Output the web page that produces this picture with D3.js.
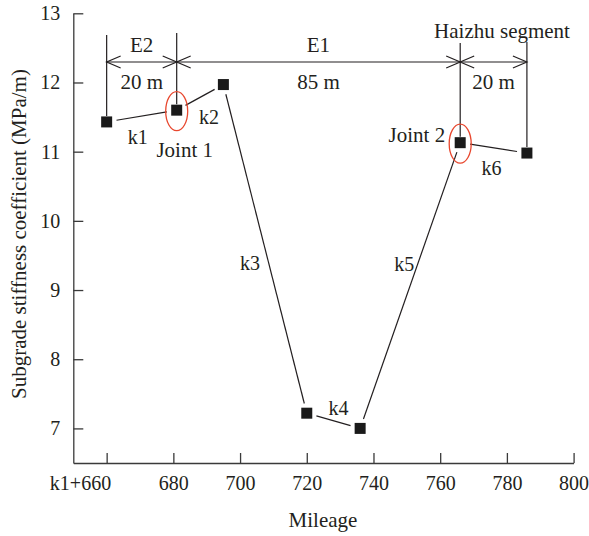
<!DOCTYPE html>
<html>
  <head>
    <meta http-equiv="Content-type" content="text/html; charset=utf-8">
    <title>Subgrade stiffness coefficient</title>
    <script src="https://cdn.jsdelivr.net/npm/d3@7/dist/d3.min.js"></script>
    <style>
      body { margin: 0; background: #fff; }
      text { font-family: "Liberation Serif", "DejaVu Serif", serif; fill: #231f20; }
    </style>
  </head>
  <body>
    <div id="chart"></div>
    <script type="text/javascript">
      // data
      var mileage = [660, 681, 695, 720, 736, 766, 786];
      var stiffness = [11.43, 11.6, 11.97, 7.22, 7.0, 11.13, 10.98];
      var segLabels = ["k1", "k2", "k3", "k4", "k5", "k6"];
      var xTicks = [660, 680, 700, 720, 740, 760, 780, 800];
      var yTicks = [7, 8, 9, 10, 11, 12, 13];
      // dimension lines above the plot
      var dimMarks = [660, 681, 766, 786];
      var spans = [
        { from: 660, to: 681, name: "E2", len: "20 m" },
        { from: 681, to: 766, name: "E1", len: "85 m" },
        { from: 766, to: 786, name: "", len: "20 m" }
      ];
      var joints = [{ i: 1, name: "Joint 1" }, { i: 5, name: "Joint 2" }];

      var width = 589, height = 536;
      var ink = "#231f20", fs = 20, fw = 21;

      var x = d3.scaleLinear().domain([650, 800]).range([73.3, 573.6]);
      var y = d3.scaleLinear().domain([6.5, 13]).range([463, 13.3]);

      var svg = d3.select("#chart").append("svg")
        .attr("width", width)
        .attr("height", height);

      // axes
      var xAxis = svg.append("g")
        .attr("transform", "translate(0," + y(6.5) + ")")
        .call(d3.axisBottom(x).tickValues(xTicks).tickSizeInner(-10).tickSizeOuter(0).tickPadding(13)
          .tickFormat(function(d) { return d == 660 ? "k1+660" : d; }));
      var yAxis = svg.append("g")
        .attr("transform", "translate(" + x(650) + ",0)")
        .call(d3.axisLeft(y).tickValues(yTicks).tickSizeInner(-10).tickSizeOuter(0).tickPadding(13)
          .tickFormat(d3.format("d")));
      [xAxis, yAxis].forEach(function(a) {
        a.selectAll("path, line").attr("stroke", "#3a3a3a").attr("stroke-width", 1.3);
        a.selectAll("text").style("font-size", fs + "px").attr("fill", ink)
          .style("font-family", "'Liberation Serif', 'DejaVu Serif', serif");
      });
      // the first label sits left of its tick in the original
      xAxis.selectAll(".tick text")
        .filter(function(d) { return d == 660; })
        .attr("text-anchor", "end").attr("x", 4);

      svg.append("text")
        .attr("x", 323).attr("y", 527)
        .attr("text-anchor", "middle")
        .style("font-size", fw + "px")
        .text("Mileage");
      svg.append("text")
        .attr("transform", "translate(26,234) rotate(-90)")
        .attr("text-anchor", "middle")
        .style("font-size", fw + "px")
        .text("Subgrade stiffness coefficient (MPa/m)");

      var pts = mileage.map(function(m, i) { return [x(m), y(stiffness[i])]; });

      // connecting segments, trimmed so they stop short of the markers
      var gap = 10;
      var segs = d3.pairs(pts);
      svg.append("g").selectAll("line")
        .data(segs)
        .enter().append("line")
        .each(function(s) {
          var dx = s[1][0] - s[0][0], dy = s[1][1] - s[0][1];
          var L = Math.sqrt(dx * dx + dy * dy);
          var ux = dx / L, uy = dy / L;
          d3.select(this)
            .attr("x1", s[0][0] + ux * gap).attr("y1", s[0][1] + uy * gap)
            .attr("x2", s[1][0] - ux * gap).attr("y2", s[1][1] - uy * gap);
        })
        .attr("stroke", ink).attr("stroke-width", 1.2);

      // segment labels, offset from each segment's midpoint
      var segOffsets = [[-4, 21], [9, 20], [-15, 14], [5, -13], [-6, -22], [-2, 20]];
      svg.append("g").selectAll("text")
        .data(segs)
        .enter().append("text")
        .attr("x", function(s, i) { return (s[0][0] + s[1][0]) / 2 + segOffsets[i][0]; })
        .attr("y", function(s, i) { return (s[0][1] + s[1][1]) / 2 + segOffsets[i][1]; })
        .attr("dy", "0.35em")
        .attr("text-anchor", "middle")
        .style("font-size", fs + "px")
        .text(function(d, i) { return segLabels[i]; });

      // dimension lines
      var dimY = 62;
      var dimTop = [35, 33, 43, 42];
      var dim = svg.append("g").attr("stroke", ink).attr("stroke-width", 1.2).attr("fill", "none");
      dimMarks.forEach(function(m, k) {
        var i = mileage.indexOf(m);
        dim.append("line")
          .attr("x1", x(m)).attr("x2", x(m))
          .attr("y1", dimTop[k]).attr("y2", pts[i][1] - 6);
      });
      dim.append("line")
        .attr("x1", x(spans[0].from)).attr("x2", x(spans[spans.length - 1].to))
        .attr("y1", dimY).attr("y2", dimY);
      function chevron(px, dir) {
        dim.append("path")
          .attr("d", "M" + (px + dir * 14) + "," + (dimY - 6) + "L" + px + "," + dimY + "L" + (px + dir * 14) + "," + (dimY + 6));
      }
      spans.forEach(function(s) {
        chevron(x(s.from), 1);
        chevron(x(s.to), -1);
        var cx = (x(s.from) + x(s.to)) / 2;
        if (s.name) {
          svg.append("text").attr("x", cx).attr("y", dimY - 10)
            .attr("text-anchor", "middle").style("font-size", fw + "px").text(s.name);
        }
        svg.append("text").attr("x", cx).attr("y", dimY + 27)
          .attr("text-anchor", "middle").style("font-size", fw + "px").text(s.len);
      });
      svg.append("text")
        .attr("x", 502).attr("y", 38)
        .attr("text-anchor", "middle")
        .style("font-size", fw + "px")
        .text("Haizhu segment");

      // red rings round the joints
      svg.append("g").selectAll("ellipse")
        .data(joints)
        .enter().append("ellipse")
        .attr("cx", function(d) { return pts[d.i][0]; })
        .attr("cy", function(d) { return pts[d.i][1] + 1; })
        .attr("rx", 11).attr("ry", 19.5)
        .attr("fill", "none").attr("stroke", "#e8472e").attr("stroke-width", 1.3);
      svg.append("text")
        .attr("x", pts[1][0] + 8).attr("y", pts[1][1] + 39)
        .attr("dy", "0.35em").attr("text-anchor", "middle")
        .style("font-size", fw + "px").text(joints[0].name);
      svg.append("text")
        .attr("x", pts[5][0] - 15).attr("y", pts[5][1] - 8)
        .attr("dy", "0.35em").attr("text-anchor", "end")
        .style("font-size", fw + "px").text(joints[1].name);

      // square markers
      svg.append("g").selectAll("rect")
        .data(pts)
        .enter().append("rect")
        .attr("x", function(d) { return d[0] - 5.5; })
        .attr("y", function(d) { return d[1] - 5.5; })
        .attr("width", 11).attr("height", 11)
        .attr("fill", "#1a1a1a");
    </script>
  </body>
</html>
